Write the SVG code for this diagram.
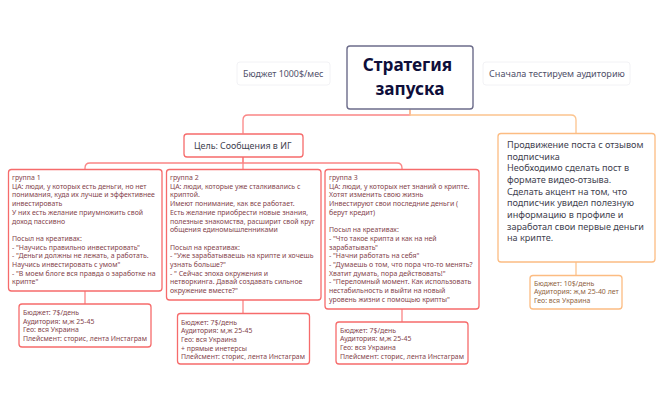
<svg xmlns="http://www.w3.org/2000/svg" width="663" height="410" viewBox="0 0 663 410">
<style>
text{font-family:"Noto Sans","Open Sans","DejaVu Sans",sans-serif}
rect{fill:#fff;stroke-width:1.3}
.red{stroke:#f66b6b}
.or{stroke:#fcbc82}
.c{fill:none;stroke-width:1.3}
.cr{stroke:#fa8585}
.co{stroke:#fcc48e}
.g{font-size:6.950px;fill:#84444c}
.s{font-size:6.900px;fill:#84444c}
.so{font-size:6.950px;fill:#8f6442}
.m{font-size:8.900px;fill:#42424f}
.f{font-size:8.900px;fill:#50506a}
</style>
<g id="connectors">
<path class="c cr" d="M410 109.500V115H248Q243 115 243 120V133.500"/>
<path class="c co" d="M410 109.500V115H571Q576 115 576 120V133"/>
<path class="c cr" d="M243 157V163H90Q85 163 85 168V169.500"/>
<path class="c cr" d="M243 157V169.500"/>
<path class="c cr" d="M243 163H397Q402 163 402 168V169.500"/>
<path class="c cr" d="M85 291V304"/>
<path class="c cr" d="M243 300V313.500"/>
<path class="c cr" d="M402 309V322"/>
<path class="c co" d="M576 262V275"/>
</g>
<g id="root">
<rect x="347" y="46" width="126" height="63" rx="3" style="stroke:#6c6c8a;stroke-width:1.4"/>
<text x="407.500" y="71" text-anchor="middle" font-size="17.200" font-weight="700" fill="#0e0e3a">Стратегия</text>
<text x="410" y="95" text-anchor="middle" font-size="17.200" font-weight="700" fill="#0e0e3a">запуска</text>
</g>
<g id="budget">
<rect x="237" y="62" width="93" height="23" rx="3" style="stroke:#f2f2f5;stroke-width:1"/>
<text class="f" x="243" y="76.500">Бюджет 1000$/мес</text>
</g>
<g id="test">
<rect x="483" y="62" width="147" height="23" rx="3" style="stroke:#f2f2f5;stroke-width:1"/>
<text class="f" x="489" y="76.500" style="font-size:9.150px">Сначала тестируем аудиторию</text>
</g>
<g id="goal">
<rect class="red" x="184" y="134" width="119" height="23" rx="3"/>
<text class="m" x="194" y="148.500">Цель: Сообщения в ИГ</text>
</g>
<g id="group1">
<rect class="red" x="8.500" y="169.500" width="153.500" height="121.500" rx="3"/>
<text class="g"><tspan x="12" y="180">группа 1</tspan><tspan x="12" dy="8.700">ЦА: люди, у которых есть деньги, но нет</tspan><tspan x="12" dy="8.700">понимания, куда их лучше и эффективнее</tspan><tspan x="12" dy="8.700">инвестировать</tspan><tspan x="12" dy="8.700">У них есть желание приумножить свой</tspan><tspan x="12" dy="8.700">доход пассивно</tspan><tspan x="12" dy="17.400">Посыл на креативах:</tspan><tspan x="12" dy="8.700">- "Научись правильно инвестировать"</tspan><tspan x="12" dy="8.700">- "Деньги должны не лежать, а работать.</tspan><tspan x="12" dy="8.700">Научись инвестировать с умом"</tspan><tspan x="12" dy="8.700">- "В моем блоге вся правда о заработке на</tspan><tspan x="12" dy="8.700">крипте"</tspan></text>
</g>
<g id="group1-sub">
<rect class="red" x="19" y="304" width="132" height="43" rx="3"/>
<text class="s"><tspan x="23" y="315">Бюджет: 7$/день</tspan><tspan x="23" dy="8.700">Аудитория: м,ж 25-45</tspan><tspan x="23" dy="8.700">Гео: вся Украина</tspan><tspan x="23" dy="8.700">Плейсмент: сторис, лента Инстаграм</tspan></text>
</g>
<g id="group2">
<rect class="red" x="166.500" y="169.500" width="154.500" height="130.500" rx="3"/>
<text class="g"><tspan x="170" y="180">группа 2</tspan><tspan x="170" dy="8.700">ЦА: люди, которые уже сталкивались с</tspan><tspan x="170" dy="8.700">криптой.</tspan><tspan x="170" dy="8.700">Имеют понимание, как все работает.</tspan><tspan x="170" dy="8.700">Есть желание приобрести новые знания,</tspan><tspan x="170" dy="8.700">полезные знакомства, расширит свой круг</tspan><tspan x="170" dy="8.700">общения единомышленниками</tspan><tspan x="170" dy="17.400">Посыл на креативах:</tspan><tspan x="170" dy="8.700">- "Уже зарабатываешь на крипте и хочешь</tspan><tspan x="170" dy="8.700">узнать больше?"</tspan><tspan x="170" dy="8.700">- " Сейчас эпоха окружения и</tspan><tspan x="170" dy="8.700">нетворкинга. Давай создавать сильное</tspan><tspan x="170" dy="8.700">окружение вместе?"</tspan></text>
</g>
<g id="group2-sub">
<rect class="red" x="177.500" y="313.500" width="132" height="50.500" rx="3"/>
<text class="s"><tspan x="181" y="324.500">Бюджет: 7$/день</tspan><tspan x="181" dy="8.700">Аудитория: м,ж 25-45</tspan><tspan x="181" dy="8.700">Гео: вся Украина</tspan><tspan x="181" dy="8.700">+ прямые инетерсы</tspan><tspan x="181" dy="8.700">Плейсмент: сторис, лента Инстаграм</tspan></text>
</g>
<g id="group3">
<rect class="red" x="325" y="169.500" width="154" height="139.500" rx="3"/>
<text class="g"><tspan x="329" y="180">группа 3</tspan><tspan x="329" dy="8.700">ЦА: люди, у которых нет знаний о крипте.</tspan><tspan x="329" dy="8.700">Хотят изменить свою жизнь</tspan><tspan x="329" dy="8.700">Инвестируют свои последние деньги (</tspan><tspan x="329" dy="8.700">берут кредит)</tspan><tspan x="329" dy="17.400">Посыл на креативах:</tspan><tspan x="329" dy="8.700">- "Что такое крипта и как на ней</tspan><tspan x="329" dy="8.700">зарабатывать"</tspan><tspan x="329" dy="8.700">- "Начни работать на себя"</tspan><tspan x="329" dy="8.700">- "Думаешь о том, что пора что-то менять?</tspan><tspan x="329" dy="8.700">Хватит думать, пора действовать!"</tspan><tspan x="329" dy="8.700">- "Переломный момент. Как использовать</tspan><tspan x="329" dy="8.700">нестабильность и выйти на новый</tspan><tspan x="329" dy="8.700">уровень жизни с помощью крипты"</tspan></text>
</g>
<g id="group3-sub">
<rect class="red" x="336" y="322" width="132" height="42" rx="3"/>
<text class="s"><tspan x="340" y="332.500">Бюджет: 7$/день</tspan><tspan x="340" dy="8.700">Аудитория: м,ж 25-45</tspan><tspan x="340" dy="8.700">Гео: вся Украина</tspan><tspan x="340" dy="8.700">Плейсмент: сторис, лента Инстаграм</tspan></text>
</g>
<g id="promo">
<rect class="or" x="498" y="133.500" width="157" height="128.500" rx="3"/>
<text font-size="9.100" fill="#42424f"><tspan x="507" y="148">Продвижение поста с отзывом</tspan><tspan x="507" dy="11.650">подписчика</tspan><tspan x="507" dy="11.650">Необходимо сделать пост в</tspan><tspan x="507" dy="11.650">формате видео-отзыва.</tspan><tspan x="507" dy="11.650">Сделать акцент на том, что</tspan><tspan x="507" dy="11.650">подписчик увидел полезную</tspan><tspan x="507" dy="11.650">информацию в профиле и</tspan><tspan x="507" dy="11.650">заработал свои первые деньги</tspan><tspan x="507" dy="11.650">на крипте.</tspan></text>
</g>
<g id="promo-sub">
<rect class="or" x="530" y="275.500" width="92" height="33.500" rx="3"/>
<text class="so"><tspan x="534" y="285.500">Бюджет: 10$/день</tspan><tspan x="534" dy="8.700">Аудитория: ж,м 25-40 лет</tspan><tspan x="534" dy="8.700">Гео: вся Украина</tspan></text>
</g>
</svg>
